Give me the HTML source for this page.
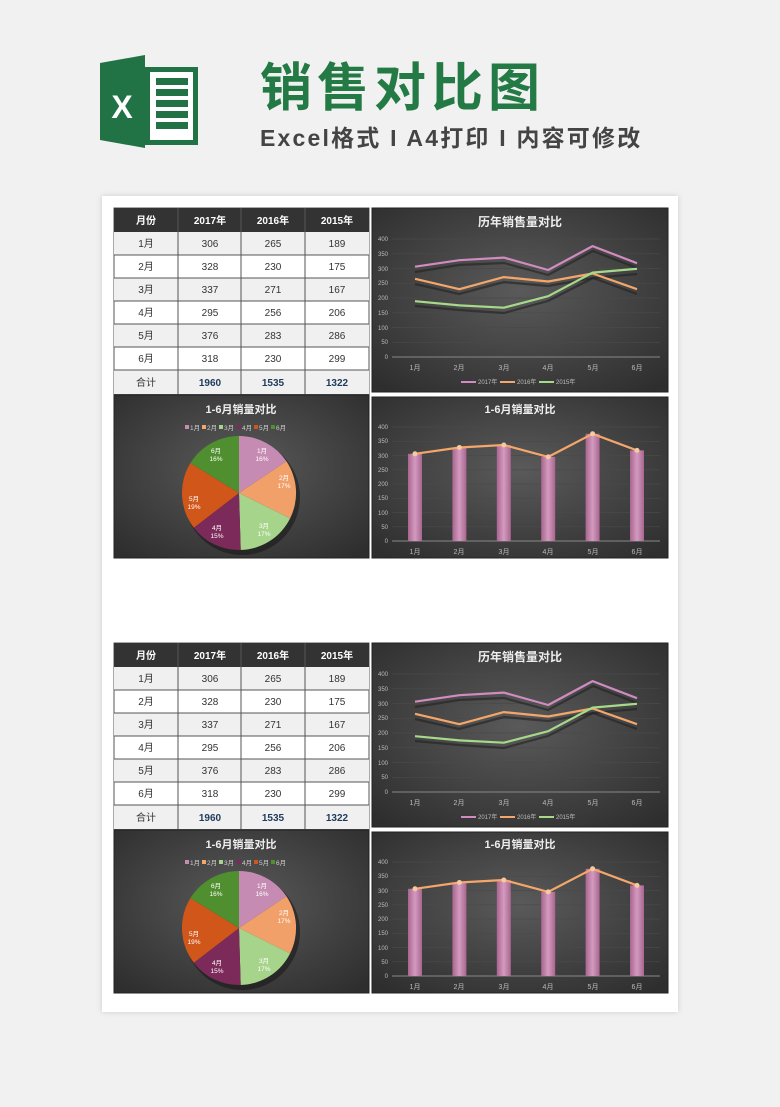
<!DOCTYPE html>
<html><head><meta charset="utf-8"><style>
body{margin:0;width:780px;height:1102px;background:#f1f1f1;font-family:"Liberation Sans","Noto Sans CJK SC",sans-serif;overflow:hidden}
svg text{font-family:"Liberation Sans","Noto Sans CJK SC",sans-serif}
</style></head><body>
<svg width="780" height="1102" viewBox="0 0 780 1102" xmlns="http://www.w3.org/2000/svg">
<defs>
<radialGradient id="bg" cx="50%" cy="45%" r="70%"><stop offset="0" stop-color="#5a5a5a"/><stop offset="1" stop-color="#2e2e2e"/></radialGradient>
<linearGradient id="bar" x1="0" x2="1"><stop offset="0" stop-color="#a8668f"/><stop offset=".5" stop-color="#d49ac0"/><stop offset="1" stop-color="#a8668f"/></linearGradient>
<g id="blk">
<rect x="114" y="208" width="255" height="186" fill="#fff" stroke="#555"/>
<rect x="114" y="208" width="255" height="24" fill="#333"/>
<g fill="#f0f0f0"><rect x="114" y="232" width="255" height="23"/><rect x="114" y="278" width="255" height="23"/><rect x="114" y="324" width="255" height="23"/><rect x="114" y="370" width="255" height="24"/></g>
<g stroke="#555" stroke-width="1"><line x1="114" x2="369" y1="255" y2="255"/><line x1="114" x2="369" y1="278" y2="278"/><line x1="114" x2="369" y1="301" y2="301"/><line x1="114" x2="369" y1="324" y2="324"/><line x1="114" x2="369" y1="347" y2="347"/><line x1="114" x2="369" y1="370" y2="370"/>
<line x1="178" x2="178" y1="208" y2="394"/><line x1="241" x2="241" y1="208" y2="394"/><line x1="305" x2="305" y1="208" y2="394"/></g>
<g font-size="10" font-weight="bold" fill="#fff" text-anchor="middle"><text x="146" y="224">月份</text><text x="210" y="224">2017年</text><text x="273" y="224">2016年</text><text x="337" y="224">2015年</text></g>
<g font-size="10" fill="#333" text-anchor="middle">
<text x="146" y="247">1月</text><text x="210" y="247">306</text><text x="273" y="247">265</text><text x="337" y="247">189</text>
<text x="146" y="270">2月</text><text x="210" y="270">328</text><text x="273" y="270">230</text><text x="337" y="270">175</text>
<text x="146" y="293">3月</text><text x="210" y="293">337</text><text x="273" y="293">271</text><text x="337" y="293">167</text>
<text x="146" y="316">4月</text><text x="210" y="316">295</text><text x="273" y="316">256</text><text x="337" y="316">206</text>
<text x="146" y="339">5月</text><text x="210" y="339">376</text><text x="273" y="339">283</text><text x="337" y="339">286</text>
<text x="146" y="362">6月</text><text x="210" y="362">318</text><text x="273" y="362">230</text><text x="337" y="362">299</text>
<text x="146" y="386">合计</text><text x="210" y="386" font-weight="bold" fill="#1f3a5a">1960</text><text x="273" y="386" font-weight="bold" fill="#1f3a5a">1535</text><text x="337" y="386" font-weight="bold" fill="#1f3a5a">1322</text></g>
<rect x="372" y="208" width="296" height="184" fill="url(#bg)" stroke="#222"/>
<text x="520" y="226" font-size="12" font-weight="bold" fill="#eee" text-anchor="middle">历年销售量对比</text>
<g stroke="#4a4a4a" stroke-width=".7"><line x1="392" x2="660" y1="239" y2="239"/><line x1="392" x2="660" y1="253.8" y2="253.8"/><line x1="392" x2="660" y1="268.5" y2="268.5"/><line x1="392" x2="660" y1="283.3" y2="283.3"/><line x1="392" x2="660" y1="298" y2="298"/><line x1="392" x2="660" y1="312.8" y2="312.8"/><line x1="392" x2="660" y1="327.5" y2="327.5"/><line x1="392" x2="660" y1="342.3" y2="342.3"/></g>
<line x1="392" x2="660" y1="357" y2="357" stroke="#888"/>
<g font-size="6" fill="#bbb" text-anchor="end"><text x="388" y="241">400</text><text x="388" y="256">350</text><text x="388" y="271">300</text><text x="388" y="285">250</text><text x="388" y="300">200</text><text x="388" y="315">150</text><text x="388" y="330">100</text><text x="388" y="344">50</text><text x="388" y="359">0</text></g>
<g font-size="7" fill="#bbb" text-anchor="middle"><text x="415" y="370">1月</text><text x="459" y="370">2月</text><text x="504" y="370">3月</text><text x="548" y="370">4月</text><text x="593" y="370">5月</text><text x="637" y="370">6月</text></g>
<g fill="none" stroke-width="2.2" stroke-linejoin="round">
<polyline stroke="#222" stroke-opacity=".6" points="415,272 459,265 504,263 548,275 593,251 637,268"/>
<polyline stroke="#222" stroke-opacity=".6" points="415,284 459,294 504,282 548,286 593,278 637,294"/>
<polyline stroke="#222" stroke-opacity=".6" points="415,306 459,310 504,313 548,301 593,278 637,274"/>
<polyline stroke="#d08cc0" points="415,266.7 459.4,260.2 503.8,257.6 548.2,270 592.6,246.1 637,263.2"/>
<polyline stroke="#f4a66b" points="415,278.8 459.4,289.2 503.8,277.1 548.2,281.5 592.6,273.5 637,289.2"/>
<polyline stroke="#a6d98a" points="415,301.2 459.4,305.4 503.8,307.7 548.2,296.2 592.6,272.6 637,268.8"/></g>
<g font-size="6" fill="#bbb"><line x1="461" x2="476" y1="382" y2="382" stroke="#d08cc0" stroke-width="2"/><text x="478" y="384">2017年</text><line x1="500" x2="515" y1="382" y2="382" stroke="#f4a66b" stroke-width="2"/><text x="517" y="384">2016年</text><line x1="539" x2="554" y1="382" y2="382" stroke="#a6d98a" stroke-width="2"/><text x="556" y="384">2015年</text></g>
<rect x="114" y="395" width="255" height="163" fill="url(#bg)" stroke="#222"/>
<text x="241" y="413" font-size="11" font-weight="bold" fill="#eee" text-anchor="middle">1-6月销量对比</text>
<g font-size="6.5" fill="#ccc"><rect x="185" y="425" width="4" height="4" fill="#c58bb3"/><text x="190" y="430">1月</text><rect x="202" y="425" width="4" height="4" fill="#f4a66b"/><text x="207" y="430">2月</text><rect x="219" y="425" width="4" height="4" fill="#a6d48a"/><text x="224" y="430">3月</text><rect x="237" y="425" width="4" height="4" fill="#7b2a5a"/><text x="242" y="430">4月</text><rect x="254" y="425" width="4" height="4" fill="#d0561a"/><text x="259" y="430">5月</text><rect x="271" y="425" width="4" height="4" fill="#4f8f2f"/><text x="276" y="430">6月</text></g>
<ellipse cx="242" cy="497" rx="58" ry="58" fill="#111" opacity=".5"/>
<path d="M239,493 L239,436 A57,57 0 0 1 286.4,461.3Z" fill="#c58bb3"/>
<path d="M239,493 L286.4,461.3 A57,57 0 0 1 290.1,518.4Z" fill="#f2a06a"/>
<path d="M239,493 L290.1,518.4 A57,57 0 0 1 240.7,550Z" fill="#a6d48a"/>
<path d="M239,493 L240.7,550 A57,57 0 0 1 193.8,527.7Z" fill="#7b2a5a"/>
<path d="M239,493 L193.8,527.7 A57,57 0 0 1 190.4,463.1Z" fill="#d0561a"/>
<path d="M239,493 L190.4,463.1 A57,57 0 0 1 239,436Z" fill="#4f8f2f"/>
<g font-size="6.5" fill="#fff" text-anchor="middle"><text x="262" y="453">1月</text><text x="262" y="461">16%</text><text x="284" y="480">2月</text><text x="284" y="488">17%</text><text x="264" y="528">3月</text><text x="264" y="536">17%</text><text x="217" y="530">4月</text><text x="217" y="538">15%</text><text x="194" y="501">5月</text><text x="194" y="509">19%</text><text x="216" y="453">6月</text><text x="216" y="461">16%</text></g>
<rect x="372" y="397" width="296" height="161" fill="url(#bg)" stroke="#222"/>
<text x="520" y="413" font-size="11" font-weight="bold" fill="#eee" text-anchor="middle">1-6月销量对比</text>
<g stroke="#4a4a4a" stroke-width=".7"><line x1="392" x2="660" y1="427" y2="427"/><line x1="392" x2="660" y1="441.3" y2="441.3"/><line x1="392" x2="660" y1="455.5" y2="455.5"/><line x1="392" x2="660" y1="469.8" y2="469.8"/><line x1="392" x2="660" y1="484" y2="484"/><line x1="392" x2="660" y1="498.3" y2="498.3"/><line x1="392" x2="660" y1="512.5" y2="512.5"/><line x1="392" x2="660" y1="526.8" y2="526.8"/></g>
<line x1="392" x2="660" y1="541" y2="541" stroke="#888"/>
<g font-size="6" fill="#bbb" text-anchor="end"><text x="388" y="429">400</text><text x="388" y="443">350</text><text x="388" y="458">300</text><text x="388" y="472">250</text><text x="388" y="486">200</text><text x="388" y="500">150</text><text x="388" y="515">100</text><text x="388" y="529">50</text><text x="388" y="543">0</text></g>
<g fill="url(#bar)"><rect x="408" y="453.8" width="14" height="87.2"/><rect x="452.4" y="447.5" width="14" height="93.5"/><rect x="496.8" y="445" width="14" height="96"/><rect x="541.2" y="456.9" width="14" height="84.1"/><rect x="585.6" y="433.8" width="14" height="107.2"/><rect x="630" y="450.4" width="14" height="90.6"/></g>
<polyline fill="none" stroke="#f4a66b" stroke-width="2.2" points="415,453.8 459.4,447.5 503.8,445 548.2,456.9 592.6,433.8 637,450.4"/>
<g fill="#f6c9a0"><circle cx="415" cy="453.8" r="2.5"/><circle cx="459.4" cy="447.5" r="2.5"/><circle cx="503.8" cy="445" r="2.5"/><circle cx="548.2" cy="456.9" r="2.5"/><circle cx="592.6" cy="433.8" r="2.5"/><circle cx="637" cy="450.4" r="2.5"/></g>
<g font-size="7" fill="#bbb" text-anchor="middle"><text x="415" y="554">1月</text><text x="459" y="554">2月</text><text x="504" y="554">3月</text><text x="548" y="554">4月</text><text x="593" y="554">5月</text><text x="637" y="554">6月</text></g>
</g>
</defs>
<path d="M100,63 L145,55 L145,148 L100,140Z" fill="#217346"/>
<rect x="145" y="67" width="53" height="78" fill="#217346"/>
<rect x="150" y="72" width="43" height="68" fill="#fff"/>
<g fill="#217346"><rect x="156" y="78" width="32" height="7"/><rect x="156" y="89" width="32" height="7"/><rect x="156" y="100" width="32" height="7"/><rect x="156" y="111" width="32" height="7"/><rect x="156" y="122" width="32" height="7"/></g>
<text x="122" y="118" font-size="32" font-weight="bold" fill="#fff" text-anchor="middle">X</text>
<text x="260" y="106" font-size="52" font-weight="bold" fill="#237a45" letter-spacing="5">销售对比图</text>
<text x="260" y="146" font-size="23" font-weight="bold" fill="#444" letter-spacing="2.2">Excel格式 I A4打印 I 内容可修改</text>
<rect x="102" y="196" width="576" height="816" fill="#fff" style="filter:drop-shadow(0 0 3px rgba(0,0,0,.15))"/>
<use href="#blk"/>
<use href="#blk" transform="translate(0,435)"/>
</svg>
</body></html>
